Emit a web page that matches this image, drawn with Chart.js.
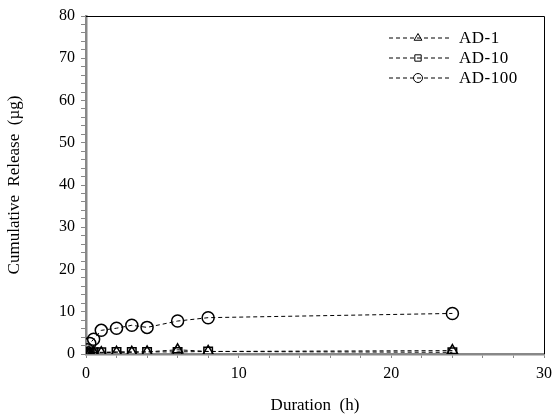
<!DOCTYPE html>
<html><head><meta charset="utf-8">
<script src="https://cdn.jsdelivr.net/npm/chart.js@4"></script>
<style>html,body{margin:0;padding:0;background:#fff}#wrap{width:558px;height:420px}</style>
</head><body><div id="wrap"><canvas id="c" width="558" height="420"></canvas></div>
<script>
const times = [0, 0.083, 0.25, 0.5, 1, 2, 3, 4, 6, 8, 24];
const ad1 = [0, 0.2, 0.3, 0.3, 0.3, 0.4, 0.4, 0.5, 1.0, 0.6, 0.8];
const ad10 = [0, 0.2, 0.3, 0.4, 0.4, 0.5, 0.5, 0.5, 0.5, 0.6, 0.4];
const ad100 = [0, 1.0, 2.5, 3.5, 5.6, 6.1, 6.8, 6.3, 7.8, 8.6, 9.6];
const seriesNames = ['AD-1', 'AD-10', 'AD-100'];
const markers = ['triangle', 'rect', 'circle'];
const serif = '"Liberation Serif", "Times New Roman", serif';

function mk(name, vals, ps) {
  return {
    label: name,
    data: times.map((t, i) => ({x: t, y: vals[i]})),
    borderColor: '#000', borderWidth: 1, borderDash: [4, 3],
    pointStyle: ps, pointRadius: 6, pointBorderColor: '#000', pointBorderWidth: 1.5,
    pointBackgroundColor: 'rgba(255,255,255,0)', fill: false, tension: 0
  };
}

const frame = {
  id: 'frame',
  afterDraw(chart) {
    const {ctx, chartArea: a} = chart;
    ctx.save();
    ctx.strokeStyle = '#000'; ctx.lineWidth = 1;
    ctx.beginPath();
    ctx.moveTo(a.left, a.top + 0.5); ctx.lineTo(a.right + 0.5, a.top + 0.5); ctx.lineTo(a.right + 0.5, a.bottom);
    ctx.stroke();
    // legend
    chart.data.datasets.forEach((ds, i) => {
      const y = 38 + i * 20;
      ctx.setLineDash([4, 3]); ctx.lineWidth = 1; ctx.strokeStyle = '#000';
      ctx.beginPath(); ctx.moveTo(389, y); ctx.lineTo(450, y); ctx.stroke();
      ctx.setLineDash([]);
      ctx.fillStyle = 'rgba(255,255,255,0)';
      Chart.helpers.drawPoint(ctx, {pointStyle: ds.pointStyle, radius: 4.5, borderWidth: 1}, 418, y);
      ctx.fillStyle = '#000';
      ctx.font = '17px ' + serif; ctx.textBaseline = 'middle';
      ctx.letterSpacing = '0.5px';
      ctx.fillText(ds.label, 459, y + 1);
      ctx.letterSpacing = '0px';
    });
    ctx.restore();
  }
};

new Chart(document.getElementById('c'), {
  type: 'line',
  data: { datasets: [mk(seriesNames[0], ad1, markers[0]), mk(seriesNames[1], ad10, markers[1]), mk(seriesNames[2], ad100, markers[2])] },
  options: {
    responsive: false, animation: false,
    layout: { padding: { top: 16, right: 13, left: 0, bottom: 0 } },
    plugins: { legend: { display: false }, tooltip: { enabled: false } },
    scales: {
      x: {
        type: 'linear', min: 0, max: 30,
        afterFit(s) { s.height = 66; },
        border: { color: '#888', width: 2.5 },
        grid: { drawOnChartArea: false, drawTicks: true, tickLength: 4, color: '#888', tickWidth: 1 },
        ticks: { stepSize: 2, autoSkip: false, maxRotation: 0, padding: 6, color: '#000',
          font: { family: serif, size: 16 },
          callback: v => (v % 10 === 0 ? String(v) : '') },
        title: { display: true, text: 'Duration  (h)', color: '#000', font: { family: serif, size: 17 }, padding: { top: 2 } }
      },
      y: {
        min: 0, max: 80,
        afterFit(s) { s.width = 86; },
        border: { color: '#888', width: 2.5 },
        grid: { drawOnChartArea: false, drawTicks: true, tickLength: 5, color: '#888', tickWidth: 1 },
        ticks: { stepSize: 2, autoSkip: false, padding: 6, color: '#000',
          font: { family: serif, size: 16 },
          callback: v => (v % 10 === 0 ? String(v) : '') },
        title: { display: true, text: 'Cumulative  Release  (µg)', color: '#000', font: { family: serif, size: 17 }, padding: { bottom: 2 } }
      }
    }
  },
  plugins: [frame]
});
</script></body></html>
